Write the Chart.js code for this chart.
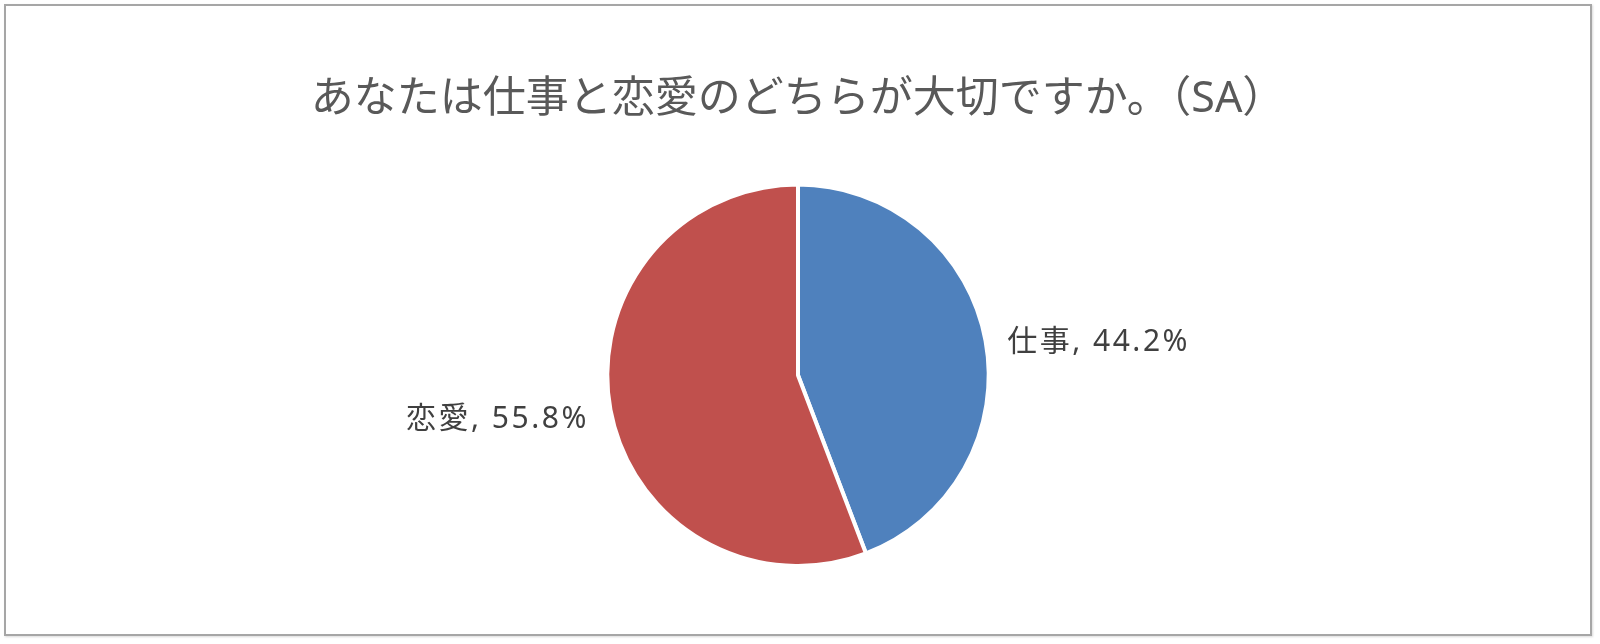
<!DOCTYPE html>
<html lang="ja">
<head>
<meta charset="utf-8">
<script src="https://cdn.jsdelivr.net/npm/chart.js@4"></script>
<style>
  html, body { margin: 0; padding: 0; background: #fff; }
  #frame {
    position: absolute; left: 4px; top: 4px;
    width: 1588px; height: 632px;
    box-sizing: border-box;
    border: 2px solid #a6a6a6;
    box-shadow: 1px 1px 2px rgba(0,0,0,0.15);
  }
  #frame canvas { display: block; }
</style>
</head>
<body>
<div id="frame"><canvas id="pieChart" width="1584" height="628"></canvas></div>
<script>
const titleText = "あなたは仕事と恋愛のどちらが大切ですか。（SA）";
const categories = ["仕事", "恋愛"];
const shares = [44.2, 55.8];
const sliceColors = ["#4f81bd", "#c0504d"];

const fontStack = "'Noto Sans', 'Noto Sans CJK JP', sans-serif";

// draws "name, value%" just outside each slice
const outsideLabels = {
  id: "outsideLabels",
  afterDatasetsDraw(chart) {
    const ctx = chart.ctx;
    const arcs = chart.getDatasetMeta(0).data;
    ctx.save();
    ctx.font = `30px ${fontStack}`;
    ctx.letterSpacing = "2.5px";
    ctx.fillStyle = "#404040";
    ctx.textBaseline = "middle";
    arcs.forEach((arc, i) => {
      const { x, y, startAngle, endAngle, outerRadius } = arc.getProps(["x", "y", "startAngle", "endAngle", "outerRadius"], true);
      const mid = (startAngle + endAngle) / 2;
      const r = outerRadius + 22;
      const px = x + Math.cos(mid) * r;
      const py = y + Math.sin(mid) * r + 6;
      ctx.textAlign = Math.cos(mid) >= 0 ? "left" : "right";
      ctx.fillText(`${categories[i]}, ${shares[i].toFixed(1)}%`, px, py);
    });
    ctx.restore();
  },
};

new Chart(document.getElementById("pieChart").getContext("2d"), {
  type: "pie",
  data: {
    labels: categories,
    datasets: [
      {
        data: shares,
        backgroundColor: sliceColors,
        borderColor: "#ffffff",
        borderWidth: 4,
      },
    ],
  },
  options: {
    responsive: false,
    animation: false,
    layout: { padding: { top: 50, bottom: 66, left: 0, right: 0 } },
    plugins: {
      legend: { display: false },
      tooltip: { enabled: false },
      title: {
        display: true,
        text: titleText,
        color: "#595959",
        font: { family: fontStack, size: 43, weight: "normal" },
        padding: { top: 18, bottom: 57 },
      },
    },
  },
  plugins: [outsideLabels],
});
</script>
</body>
</html>
